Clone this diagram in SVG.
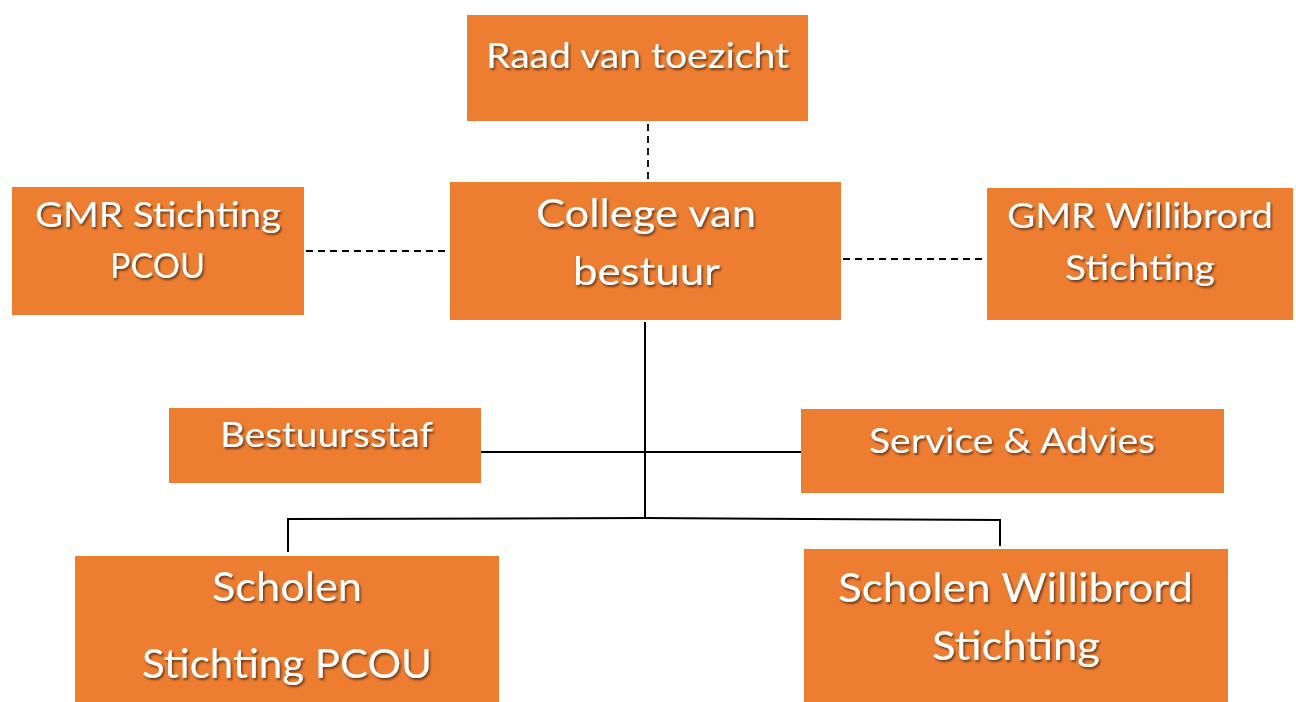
<svg xmlns="http://www.w3.org/2000/svg" width="1296" height="702" viewBox="0 0 1296 702">
<defs>
<filter id="ts" x="-10%" y="-30%" width="130%" height="180%">
<feDropShadow dx="1.5" dy="2" stdDeviation="1" flood-color="#000" flood-opacity="0.55"/>
</filter>
<style>
.box{fill:#ED7D31;}
.t{font-family:Lato,"Open Sans","Liberation Sans",sans-serif;fill:#fff;filter:url(#ts);}
.dash{stroke:#000;stroke-width:1.8;stroke-dasharray:7 5;fill:none;}
.solid{stroke:#000;stroke-width:2;fill:none;}
</style>
</defs>
<rect width="1296" height="702" fill="#fff"/>
<g id="connectors">
<line class="dash" x1="648" y1="124" x2="648" y2="180"/>
<line class="dash" x1="306" y1="251" x2="450" y2="251"/>
<line class="dash" x1="843" y1="259" x2="986" y2="259"/>
<line class="solid" x1="645" y1="322" x2="645" y2="519"/>
<line class="solid" x1="481" y1="452" x2="804" y2="452"/>
<polyline class="solid" points="288,552 288,519 645,518"/>
<polyline class="solid" points="645,518 1000,520 1000,546"/>
</g>
<g id="raad">
<rect class="box" x="467" y="15" width="341" height="106"/>
<text class="t" x="486" y="68" font-size="35" textLength="303" lengthAdjust="spacingAndGlyphs">Raad van toezicht</text>
</g>
<g id="college">
<rect class="box" x="450" y="182" width="391" height="138"/>
<text class="t" x="536" y="227" font-size="39" textLength="220" lengthAdjust="spacingAndGlyphs">College van</text>
<text class="t" x="573" y="285" font-size="39" textLength="147" lengthAdjust="spacingAndGlyphs">bestuur</text>
</g>
<g id="gmr-pcou">
<rect class="box" x="12" y="187" width="292" height="128"/>
<text class="t" x="35" y="227" font-size="35" textLength="246" lengthAdjust="spacingAndGlyphs">GMR Stichting</text>
<text class="t" x="110" y="278" font-size="35" textLength="95" lengthAdjust="spacingAndGlyphs">PCOU</text>
</g>
<g id="gmr-willibrord">
<rect class="box" x="987" y="188" width="306" height="132"/>
<text class="t" x="1007" y="228" font-size="35" textLength="266" lengthAdjust="spacingAndGlyphs">GMR Willibrord</text>
<text class="t" x="1065" y="280" font-size="35" textLength="150" lengthAdjust="spacingAndGlyphs">Stichting</text>
</g>
<g id="bestuursstaf">
<rect class="box" x="169" y="408" width="312" height="75"/>
<text class="t" x="220" y="447" font-size="35" textLength="213" lengthAdjust="spacingAndGlyphs">Bestuursstaf</text>
</g>
<g id="service">
<rect class="box" x="801" y="409" width="423" height="84"/>
<text class="t" x="869" y="453" font-size="35" textLength="286" lengthAdjust="spacingAndGlyphs">Service &amp; Advies</text>
</g>
<g id="scholen-pcou">
<rect class="box" x="75" y="556" width="424" height="146"/>
<text class="t" x="212" y="601" font-size="41" textLength="150" lengthAdjust="spacingAndGlyphs">Scholen</text>
<text class="t" x="142" y="678" font-size="41" textLength="290" lengthAdjust="spacingAndGlyphs">Stichting PCOU</text>
</g>
<g id="scholen-willibrord">
<rect class="box" x="804" y="549" width="424" height="153"/>
<text class="t" x="838" y="602" font-size="40" textLength="355" lengthAdjust="spacingAndGlyphs">Scholen Willibrord</text>
<text class="t" x="932" y="660" font-size="40" textLength="168" lengthAdjust="spacingAndGlyphs">Stichting</text>
</g>
</svg>
